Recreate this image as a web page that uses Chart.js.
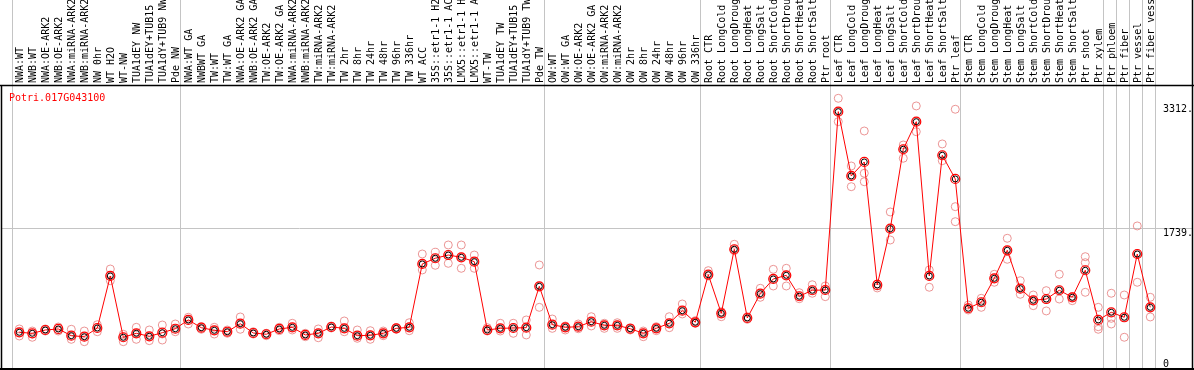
<!DOCTYPE html>
<html lang="en">
<head>
<meta charset="UTF-8">
<title>Potri.017G043100</title>
<script src="https://cdn.jsdelivr.net/npm/chart.js"></script>
<style>
  html, body { margin: 0; padding: 0; background: #fff; }
  canvas { display: block; }
</style>
</head>
<body>
<canvas id="chart" width="1194" height="370"></canvas>
<script>
// category labels (one per sample)
const categories = [
  'NWA:WT', 'NWB:WT', 'NWA:OE-ARK2', 'NWB:OE-ARK2', 'NWA:miRNA-ARK2', 'NWB:miRNA-ARK2',
  'NW 0hr', 'WT H2O', 'WT-NW', 'TUA1dEY NW', 'TUA1dEY+TUB15', 'TUA1dY+TUB9 NW', 'Pde NW',
  'NWA:WT GA', 'NWBWT GA', 'TW:WT', 'TW:WT GA', 'NWA:OE-ARK2 GA', 'NWB:OE-ARK2 GA',
  'TW:OE-ARK2', 'TW:OE-ARK2 GA', 'NWA:miRNA-ARK2', 'NWB:miRNA-ARK2', 'TW:miRNA-ARK2',
  'TW:miRNA-ARK2', 'TW 2hr', 'TW 8hr', 'TW 24hr', 'TW 48hr', 'TW 96hr', 'TW 336hr', 'WT ACC',
  '35S::etr1-1 H2O', '35S::etr1-1 ACC', 'LMX5::etr1-1 H2O', 'LMX5::etr1-1 ACC', 'WT-TW',
  'TUA1dEY TW', 'TUA1dEY+TUB15', 'TUA1dY+TUB9 TW', 'Pde TW',
  'OW:WT', 'OW:WT GA', 'OW:OE-ARK2', 'OW:OE-ARK2 GA', 'OW:miRNA-ARK2', 'OW:miRNA-ARK2',
  'OW 2hr', 'OW 8hr', 'OW 24hr', 'OW 48hr', 'OW 96hr', 'OW 336hr',
  'Root CTR', 'Root LongCold', 'Root LongDrought', 'Root LongHeat', 'Root LongSalt',
  'Root ShortCold', 'Root ShortDrought', 'Root ShortHeat', 'Root ShortSalt', 'Ptr root',
  'Leaf CTR', 'Leaf LongCold', 'Leaf LongDrought', 'Leaf LongHeat', 'Leaf LongSalt',
  'Leaf ShortCold', 'Leaf ShortDrought', 'Leaf ShortHeat', 'Leaf ShortSalt', 'Ptr leaf',
  'Stem CTR', 'Stem LongCold', 'Stem LongDrought', 'Stem LongHeat', 'Stem LongSalt',
  'Stem ShortCold', 'Stem ShortDrought', 'Stem ShortHeat', 'Stem ShortSalt', 'Ptr shoot',
  'Ptr xylem', 'Ptr phloem', 'Ptr fiber', 'Ptr vessel', 'Ptr fiber vessel'
];

// index of the last category of each group (separator drawn after it)
const groupEnds = [-1, 12, 40, 52, 62, 72, 83, 84, 85, 86, 87];

// mean expression
const means = [
  423, 410, 452, 465, 380, 367, 477, 1136, 360, 410, 372, 418, 468,
  579, 481, 448, 430, 532, 414, 398, 465, 486, 389, 410, 490, 473, 380, 385, 410, 473, 486,
  1288, 1360, 1401, 1372, 1317, 452, 473, 477, 481, 1005,
  519, 486, 494, 557, 511, 511, 468, 410, 473, 537, 696, 549,
  1152, 663, 1474, 604, 912, 1098, 1144, 879, 955, 958,
  3216, 2402, 2579, 1022, 1734, 2740, 3089, 1136, 2664, 2364,
  727, 803, 1106, 1461, 975, 828, 844, 955, 866, 1208, 579,
  676, 613, 1414, 739
];

// replicates
const rep1 = [
  465, 439, 465, 490, 461, 439, 519, 1224, 398, 486, 452, 515, 528,
  613, 494, 486, 452, 617, 430, 410, 486, 537, 410, 465, 503, 566, 452, 443, 439, 481, 544,
  1414, 1436, 1528, 1528, 1401, 481, 537, 537, 579, 1275,
  591, 503, 528, 620, 537, 544, 481, 439, 494, 620, 781, 570,
  1203, 684, 1537, 620, 980, 1220, 1233, 924, 1025, 1009,
  3385, 2528, 2971, 1034, 1946, 2794, 3288, 1212, 2807, 3246,
  768, 853, 1157, 1613, 1076, 895, 950, 1157, 874, 1380, 739,
  917, 895, 1769, 866
];
const rep2 = [
  423, 401, 452, 452, 380, 367, 477, 1136, 360, 410, 372, 401, 468,
  579, 481, 448, 430, 532, 414, 398, 465, 486, 389, 410, 490, 473, 380, 385, 410, 473, 486,
  1288, 1360, 1401, 1372, 1317, 452, 473, 477, 481, 1005,
  519, 486, 494, 557, 511, 511, 468, 410, 473, 537, 696, 549,
  1152, 663, 1474, 604, 912, 1098, 1144, 879, 955, 958,
  3216, 2402, 2436, 1009, 1734, 2740, 3089, 1136, 2664, 2013,
  727, 803, 1106, 1461, 975, 828, 844, 955, 866, 1304, 494,
  600, 613, 1414, 739
];
const rep3 = [
  376, 360, 439, 439, 334, 304, 430, 1076, 304, 334, 317, 325, 430,
  528, 461, 401, 410, 461, 401, 380, 443, 452, 367, 354, 477, 430, 347, 334, 380, 461, 443,
  1212, 1271, 1296, 1233, 1233, 439, 439, 410, 389, 739,
  473, 452, 468, 503, 473, 473, 452, 367, 443, 481, 655, 537,
  1136, 620, 1456, 587, 866, 1009, 1009, 848, 917, 874,
  3089, 2266, 2329, 984, 1591, 2626, 2962, 993, 2595, 1823,
  705, 739, 1056, 1347, 904, 760, 693, 844, 823, 929, 461,
  528, 360, 1056, 617
];

const geneId = 'Potri.017G043100';
const yTicks = [3312, 1739, 0];
const gridTick = 1739;

const xy = arr => arr.map((v, i) => ({ x: i, y: v }));
const FONT = '10px "DejaVu Sans Mono", monospace';

const decor = {
  id: 'decor',
  beforeDatasetsDraw(chart) {
    const { ctx, chartArea: a, scales: { x, y } } = chart;
    ctx.save();
    ctx.strokeStyle = '#c4c4c4';
    ctx.lineWidth = 1;
    // group separators run through the label band too
    groupEnds.forEach(e => {
      const px = Math.round(x.getPixelForValue(e + 0.4)) + 0.5;
      ctx.beginPath();
      ctx.moveTo(px, 0);
      ctx.lineTo(px, a.bottom);
      ctx.stroke();
    });
    const gy = Math.round(y.getPixelForValue(gridTick)) + 0.5;
    ctx.beginPath();
    ctx.moveTo(a.left, gy);
    ctx.lineTo(a.right, gy);
    ctx.stroke();
    ctx.restore();
  },
  afterDraw(chart) {
    const { ctx, chartArea: a, scales: { x, y } } = chart;
    ctx.save();
    ctx.font = FONT;
    ctx.fillStyle = '#000';
    // rotated sample names
    categories.forEach((c, i) => {
      ctx.save();
      ctx.translate(x.getPixelForValue(i) + 3.5, a.top - 3);
      ctx.rotate(-Math.PI / 2);
      ctx.textAlign = 'left';
      ctx.textBaseline = 'alphabetic';
      ctx.fillText(c, 0, 0);
      ctx.restore();
    });
    // value labels on the right
    ctx.textAlign = 'left';
    ctx.textBaseline = 'top';
    yTicks.forEach(t => {
      const py = Math.min(y.getPixelForValue(t), a.bottom - 10);
      ctx.fillText(t === 0 ? '0' : t + '.', 1163, py);
    });
    // gene id
    ctx.fillStyle = '#ff0000';
    ctx.textBaseline = 'alphabetic';
    ctx.fillText(geneId, 9, 101);
    // frame
    ctx.strokeStyle = '#000';
    ctx.lineWidth = 1.5;
    ctx.beginPath();
    ctx.moveTo(0, a.top - 0.5);
    ctx.lineTo(1194, a.top - 0.5);
    ctx.moveTo(1.5, a.top);
    ctx.lineTo(1.5, a.bottom);
    ctx.moveTo(1192.5, 0);
    ctx.lineTo(1192.5, a.bottom);
    ctx.stroke();
    ctx.lineWidth = 2;
    ctx.beginPath();
    ctx.moveTo(0, a.bottom);
    ctx.lineTo(1194, a.bottom);
    ctx.stroke();
    ctx.restore();
  }
};

const repStyle = {
  showLine: false,
  pointRadius: 4,
  pointBorderWidth: 1,
  pointBorderColor: 'rgba(232,130,130,0.85)',
  pointBackgroundColor: 'rgba(0,0,0,0)'
};

new Chart(document.getElementById('chart'), {
  type: 'line',
  data: {
    datasets: [
      {
        label: 'mean ring',
        data: xy(means),
        showLine: false,
        pointRadius: 3,
        pointBorderWidth: 1,
        pointBorderColor: '#000',
        pointBackgroundColor: 'rgba(0,0,0,0)'
      },
      {
        label: 'mean',
        data: xy(means),
        borderColor: '#ff0000',
        borderWidth: 1,
        pointRadius: 4.5,
        pointBorderWidth: 1.2,
        pointBorderColor: '#ff0000',
        pointBackgroundColor: 'rgba(0,0,0,0)'
      },
      Object.assign({ label: 'rep1', data: xy(rep1) }, repStyle),
      Object.assign({ label: 'rep2', data: xy(rep2) }, repStyle),
      Object.assign({ label: 'rep3', data: xy(rep3) }, repStyle)
    ]
  },
  options: {
    responsive: false,
    animation: false,
    devicePixelRatio: 1,
    layout: { autoPadding: false, padding: { left: 2, right: 2, top: 86, bottom: 1 } },
    plugins: { legend: { display: false }, tooltip: { enabled: false } },
    scales: {
      x: { type: 'linear', min: -1.331, max: 90.21, display: false },
      y: { type: 'linear', min: -41.8, max: 3540.5, display: false }
    }
  },
  plugins: [decor]
});
</script>
</body>
</html>
